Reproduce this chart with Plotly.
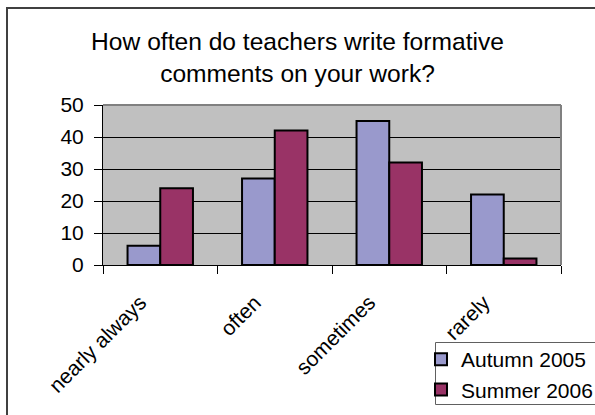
import plotly.graph_objects as go

categories = ["nearly always", "often", "sometimes", "rarely"]
autumn_2005 = [6, 27, 45, 22]
summer_2006 = [24, 42, 32, 2]
series_names = ["Autumn 2005", "Summer 2006"]
y_ticks = [0, 10, 20, 30, 40, 50]

FONT = "Liberation Sans, Arial, sans-serif"

fig = go.Figure()
fig.add_trace(go.Bar(x=categories, y=autumn_2005, name=series_names[0],
                     marker=dict(color="#9999CC", line=dict(color="black", width=2))))
fig.add_trace(go.Bar(x=categories, y=summer_2006, name=series_names[1],
                     marker=dict(color="#993366", line=dict(color="black", width=2))))

W, H = 595, 415
PL, PR, PT, PB = 103, 561, 105, 265  # plot area in page pixels
L, R, T, B = PL, W - PR, PT, H - PB
pw, ph = PR - PL, PB - PT


def px(x):
    return (x - PL) / pw


def py(y):
    return (PB - y) / ph


fig.update_layout(
    width=W, height=H,
    margin=dict(l=L, r=R, t=T, b=B, autoexpand=False),
    paper_bgcolor="white",
    plot_bgcolor="#C0C0C0",
    font=dict(family=FONT, color="black", size=21),
    barmode="group",
    bargap=1.5 / 3.5,
    bargroupgap=0,
    title=dict(text="How often do teachers write formative<br>comments on your work?",
               x=0.5, xanchor="center", xref="container",
               y=1 - 50 / H, yanchor="middle", yref="container",
               font=dict(size=24.6, family=FONT, color="black")),
    legend=dict(x=px(421), y=py(339), xanchor="left", yanchor="top",
                borderwidth=0, bgcolor="rgba(0,0,0,0)",
                font=dict(size=21, family=FONT)),
    showlegend=True,
)
fig.update_xaxes(type="category", tickson="boundaries", ticks="outside", ticklen=8,
                 tickcolor="black", tickangle=-45, showline=True, linecolor="black",
                 linewidth=1, showgrid=False, tickfont=dict(size=21),
                 ticklabelstandoff=16, ticklabelshift=-20)
fig.update_yaxes(range=[0, 50], tickvals=y_ticks, ticks="outside", ticklen=8,
                 tickcolor="black", showline=True, linecolor="black", linewidth=1,
                 showgrid=True, gridcolor="black", gridwidth=1, zeroline=False,
                 tickfont=dict(size=21), ticklabelstandoff=6)

# plot area top and right border (gray)
fig.add_shape(type="line", xref="paper", yref="paper", x0=0, x1=1, y0=1, y1=1,
              line=dict(color="#808080", width=2), layer="above")
fig.add_shape(type="line", xref="paper", yref="paper", x0=1, x1=1, y0=0, y1=1,
              line=dict(color="#808080", width=2), layer="above")
# legend box
fig.add_shape(type="rect", xref="paper", yref="paper",
              x0=px(435.5), x1=px(W + 5), y0=py(404.5), y1=py(342.5),
              line=dict(color="#606060", width=1), fillcolor="white", layer="below")
# outer chart border
fig.add_shape(type="rect", xref="paper", yref="paper",
              x0=px(7), x1=px(W + 5), y0=py(H + 5), y1=py(8),
              line=dict(color="#404040", width=2), fillcolor="rgba(0,0,0,0)", layer="below")

fig.write_html("out.html", config={"displayModeBar": False},
               post_script="document.body.style.margin='0';")
